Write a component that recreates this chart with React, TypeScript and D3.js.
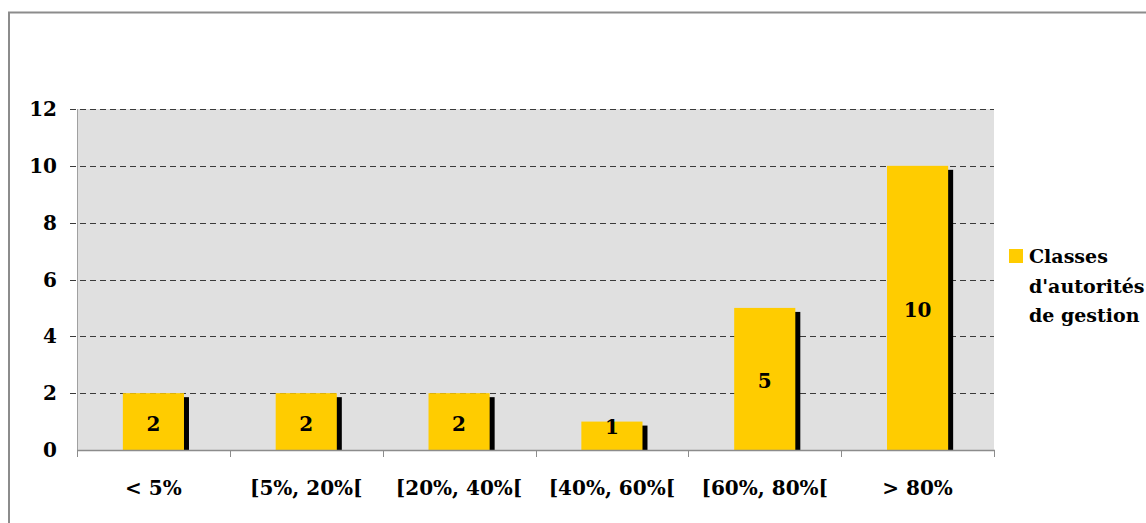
import React, { useRef, useEffect } from 'react';
import * as d3 from 'd3';

const categories = ['< 5%', '[5%, 20%[', '[20%, 40%[', '[40%, 60%[', '[60%, 80%[', '> 80%'];
const values = [2, 2, 2, 1, 5, 10];
const yTicks = [0, 2, 4, 6, 8, 10, 12];
const legendLines = ['Classes', "d'autorités", 'de gestion'];

const FONT = '"DejaVu Serif", serif';

export default function App() {
  const ref = useRef<SVGSVGElement>(null);

  useEffect(() => {
    const svg = d3.select(ref.current);
    svg.selectAll('*').remove();

    const left = 77;
    const right = 994;
    const top = 109;
    const bottom = 450;

    const slot = d3.scaleBand().domain(categories).range([left, right]).padding(0);
    const x = d3.scaleBand().domain(categories).range([left, right]).paddingInner(0.6).paddingOuter(0.3);
    const y = d3.scaleLinear().domain([0, 12]).range([bottom, top]);

    // outer frame
    svg.append('path')
      .attr('d', `M9,530 V12.5 H1150`)
      .attr('fill', 'none')
      .attr('stroke', '#8c8c8c')
      .attr('stroke-width', 2);

    // plot background
    svg.append('rect')
      .attr('x', left)
      .attr('y', top)
      .attr('width', right - left)
      .attr('height', bottom - top)
      .attr('fill', '#e0e0e0');

    // gridlines
    svg.append('g')
      .selectAll('line')
      .data(yTicks.filter((t) => t > 0))
      .enter()
      .append('line')
      .attr('x1', left - 7)
      .attr('x2', right)
      .attr('y1', (d) => Math.round(y(d)) + 0.5)
      .attr('y2', (d) => Math.round(y(d)) + 0.5)
      .attr('stroke', '#3a3a3a')
      .attr('stroke-dasharray', '6,4');

    // y axis line
    svg.append('line')
      .attr('x1', left + 0.5)
      .attr('x2', left + 0.5)
      .attr('y1', top)
      .attr('y2', bottom)
      .attr('stroke', '#a0a0a0');

    // y tick labels
    svg.append('g')
      .selectAll('text')
      .data(yTicks)
      .enter()
      .append('text')
      .text((d) => d)
      .attr('x', 57)
      .attr('y', (d) => y(d) + 7)
      .attr('text-anchor', 'end')
      .attr('font-family', FONT)
      .attr('font-weight', 'bold')
      .attr('font-size', '20px')
      .attr('fill', '#000');

    // shadows
    svg.append('g')
      .selectAll('rect')
      .data(values)
      .enter()
      .append('rect')
      .attr('x', (_, i) => x(categories[i])! + 5)
      .attr('y', (d) => y(d) + 4)
      .attr('width', x.bandwidth())
      .attr('height', (d) => bottom - y(d) - 4)
      .attr('fill', '#000');

    // bars
    svg.append('g')
      .selectAll('rect')
      .data(values)
      .enter()
      .append('rect')
      .attr('x', (_, i) => x(categories[i])!)
      .attr('y', (d) => y(d))
      .attr('width', x.bandwidth())
      .attr('height', (d) => bottom - y(d))
      .attr('fill', '#ffcc00');

    // value labels (short bars keep the label lifted off the axis)
    svg.append('g')
      .selectAll('text')
      .data(values)
      .enter()
      .append('text')
      .text((d) => d)
      .attr('x', (_, i) => x(categories[i])! + x.bandwidth() / 2)
      .attr('y', (d) => Math.min((y(d) + bottom) / 2 + 9, bottom - 16))
      .attr('text-anchor', 'middle')
      .attr('font-family', FONT)
      .attr('font-weight', 'bold')
      .attr('font-size', '20px')
      .attr('fill', '#000');

    // x axis line and ticks
    svg.append('line')
      .attr('x1', left)
      .attr('x2', right + 1)
      .attr('y1', bottom + 0.5)
      .attr('y2', bottom + 0.5)
      .attr('stroke', '#8c8c8c')
      .attr('stroke-width', 1.5);

    const bounds = [...categories.map((c) => slot(c)!), right];
    svg.append('g')
      .selectAll('line')
      .data(bounds)
      .enter()
      .append('line')
      .attr('x1', (d) => Math.round(d) + 0.5)
      .attr('x2', (d) => Math.round(d) + 0.5)
      .attr('y1', bottom)
      .attr('y2', bottom + 7)
      .attr('stroke', '#8c8c8c');

    // x labels
    svg.append('g')
      .selectAll('text')
      .data(categories)
      .enter()
      .append('text')
      .text((d) => d)
      .attr('x', (d) => slot(d)! + slot.bandwidth() / 2)
      .attr('y', 495)
      .attr('text-anchor', 'middle')
      .attr('font-family', FONT)
      .attr('font-weight', 'bold')
      .attr('font-size', '20px')
      .attr('fill', '#000');

    // legend
    svg.append('rect')
      .attr('x', 1009)
      .attr('y', 249)
      .attr('width', 14)
      .attr('height', 14)
      .attr('fill', '#ffcc00');

    svg.append('g')
      .selectAll('text')
      .data(legendLines)
      .enter()
      .append('text')
      .text((d) => d)
      .attr('x', 1029)
      .attr('y', (_, i) => 263 + i * 29.5)
      .attr('font-family', FONT)
      .attr('font-weight', 'bold')
      .attr('font-size', '19px')
      .attr('fill', '#000');
  }, []);

  return (
    <svg
      ref={ref}
      width={1146}
      height={523}
      style={{ position: 'absolute', left: 0, top: 0, background: '#fff' }}
    />
  );
}
